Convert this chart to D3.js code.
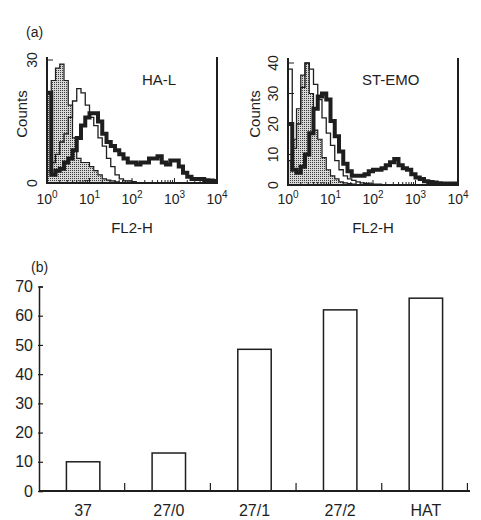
<!DOCTYPE html>
<html><head><meta charset="utf-8">
<script src="https://cdn.jsdelivr.net/npm/d3@7"></script>
<style>
body{margin:0;background:#fff}
svg{display:block;font-family:"Liberation Sans",Arial,Helvetica,sans-serif}
</style>
</head><body>
<script>
// ---- histogram data: bins of 0.1 decade on FL2-H (log10 of bin start) ----
const binLogs = [0.0,0.1,0.2,0.3,0.4,0.5,0.6,0.7,0.8,0.9,
                 1.0,1.1,1.2,1.3,1.4,1.5,1.6,1.7,1.8,1.9,
                 2.0,2.1,2.2,2.3,2.4,2.5,2.6,2.7,2.8,2.9,
                 3.0,3.1,3.2,3.3,3.4,3.5,3.6,3.7,3.8,3.9];
// HA-L
const haControl = [22,25,28,29,25,19,11,6,5,5, 4,3,2,1,0.7,0.5,0.3,0,0,0, 0,0,0,0,0,0,0,0,0,0, 0,0,0,0,0,0,0,0,0,0];
const haThin    = [3,5,7,10,12,16,20,23,22,19, 16,14,11,9,6,4,2,1,0.5,0.5, 0.3,0,0,0,0,0,0,0,0,0, 0,0,0,0,0,0,0,0,0,0];
const haThick   = [22,2,3,3.5,5,6,8,11,14,16, 17,17,15,12,10,9,8,7,6,5, 5,4.5,5,5,6,6,6.5,5,4.5,5.5, 5.5,4,2.5,1.5,1,1,1,0.7,0.6,0.5];
// ST-EMO
const stControl = [8,15,25,36,40,30,18,15,9,5, 3,2,1,0.7,0.5,0.3,0,0,0,0, 0,0,0,0,0,0,0,0,0,0, 0,0,0,0,0,0,0,0,0,0];
const stThin    = [38,12,20,32,40,38,33,28,22,17, 13,8,5,3,2,1.5,1,0.7,0.5,0.4, 0.3,0.3,0,0,0,0,0,0,0,0, 0,0,0,0,0,0,0,0,0,0];
const stThick   = [20,5,4,6,10,17,25,29,30,28, 21,16,11,7,4.5,3,3,3,3.5,4.5, 5,5,5.5,6.5,7.5,8.5,6.5,5.5,5,3.5, 2.5,2,1.2,1,0.8,0.6,0.5,0.5,0.5,0.5];

const decadeTicks  = [1,10,100,1000,10000];
const decadeLabels = ["0","1","2","3","4"];
const haCountTicks = [0,30];
const stCountTicks = [0,10,20,30,40];

// ---- bar chart data ----
const barCategories = ["37","27/0","27/1","27/2","HAT"];
const barValues     = [10,13,48.5,62,66];
const barTicks      = [0,10,20,30,40,50,60,70];

const W = 481, H = 520, ink = "#1e1e1e";
const svg = d3.select("body").append("svg").attr("width",W).attr("height",H);

const defs = svg.append("defs");
const pat = defs.append("pattern").attr("id","stip").attr("width",2).attr("height",2)
  .attr("patternUnits","userSpaceOnUse");
pat.append("rect").attr("width",2).attr("height",2).attr("fill","#d8d8d8");
pat.append("rect").attr("width",1).attr("height",1).attr("fill","#3a3a3a");

svg.append("text").attr("x",26).attr("y",37).attr("font-size",14).attr("fill",ink).text("(a)");

function histogram(cfg){
  const x = d3.scaleLog().domain([1,1e4]).range([cfg.x0,cfg.x1]);
  const y = d3.scaleLinear().domain([0,cfg.yMax]).range([cfg.base,cfg.yMaxPx]);
  const g = svg.append("g");
  const cid = "clip"+cfg.id;
  defs.append("clipPath").attr("id",cid).append("rect")
    .attr("x",cfg.x0).attr("y",cfg.top).attr("width",cfg.x1-cfg.x0).attr("height",cfg.base-cfg.top);
  const pts = arr => arr.map((v,i)=>[Math.pow(10,binLogs[i]),v]).concat([[1e4,arr[arr.length-1]]]);
  const area = d3.area().curve(d3.curveStepAfter).x(d=>x(d[0])).y0(y(0)).y1(d=>y(d[1]));
  const line = d3.line().curve(d3.curveStepAfter).x(d=>x(d[0])).y(d=>y(d[1]));
  const pg = g.append("g").attr("clip-path",`url(#${cid})`);
  pg.append("path").attr("d",area(pts(cfg.control))).attr("fill","url(#stip)")
    .attr("stroke",ink).attr("stroke-width",1.2);
  pg.append("path").attr("d",line(pts(cfg.thin))).attr("fill","none")
    .attr("stroke",ink).attr("stroke-width",1.3);
  pg.append("path").attr("d",line(pts(cfg.thick))).attr("fill","none")
    .attr("stroke",ink).attr("stroke-width",4).attr("stroke-linejoin","miter");

  // frame: left, bottom, right
  g.append("line").attr("x1",cfg.x0).attr("x2",cfg.x0).attr("y1",cfg.top).attr("y2",cfg.base+1)
    .attr("stroke",ink).attr("stroke-width",2);
  g.append("line").attr("x1",cfg.x0).attr("x2",cfg.x1).attr("y1",cfg.base).attr("y2",cfg.base)
    .attr("stroke",ink).attr("stroke-width",2);
  g.append("line").attr("x1",cfg.x1).attr("x2",cfg.x1).attr("y1",cfg.top).attr("y2",cfg.base+1)
    .attr("stroke",ink).attr("stroke-width",2);

  // x ticks (log minor + major), pointing up
  const minor = [];
  for (let k=0;k<4;k++) for (let m=2;m<=9;m++) minor.push(m*Math.pow(10,k));
  g.selectAll(null).data(minor).join("line")
    .attr("x1",d=>x(d)).attr("x2",d=>x(d)).attr("y1",cfg.base).attr("y2",cfg.base-3)
    .attr("stroke",ink).attr("stroke-width",1);
  g.selectAll(null).data(decadeTicks).join("line")
    .attr("x1",d=>x(d)).attr("x2",d=>x(d)).attr("y1",cfg.base).attr("y2",cfg.base-5)
    .attr("stroke",ink).attr("stroke-width",1);
  const xl = g.selectAll(null).data(decadeTicks).join("text")
    .attr("x",d=>x(d)).attr("y",204).attr("text-anchor","middle")
    .attr("font-size",14).attr("fill",ink).text("10");
  xl.append("tspan").attr("dy",-6).attr("font-size",10).text((d,i)=>decadeLabels[i]);

  // y ticks pointing right
  g.selectAll(null).data(cfg.countTicks).join("line")
    .attr("x1",cfg.x0).attr("x2",cfg.x0+6).attr("y1",d=>y(d)).attr("y2",d=>y(d))
    .attr("stroke",ink).attr("stroke-width",1);
  g.selectAll(null).data(cfg.countTicks).join("text")
    .attr("transform",d=>`translate(${cfg.labelX},${y(d)}) rotate(-90)`)
    .attr("dy","0.35em").attr("text-anchor","middle")
    .attr("font-size",14).attr("fill",ink).text(d=>d);

  g.append("text").attr("transform",`translate(${cfg.countsX},114) rotate(-90)`)
    .attr("dy","0.35em").attr("text-anchor","middle").attr("font-size",15).attr("fill",ink).text("Counts");
  g.append("text").attr("x",(cfg.x0+cfg.x1)/2).attr("y",233).attr("text-anchor","middle")
    .attr("font-size",15).attr("fill",ink).text("FL2-H");
  g.append("text").attr("x",cfg.nameX).attr("y",85).attr("font-size",15).attr("fill",ink).text(cfg.name);
}

histogram({id:1,x0:47,x1:217,base:183,top:57,yMax:30,yMaxPx:60,
  control:haControl,thin:haThin,thick:haThick,countTicks:haCountTicks,
  labelX:32,countsX:22,name:"HA-L",nameX:142});
histogram({id:2,x0:288,x1:458,base:185,top:58,yMax:40,yMaxPx:63,
  control:stControl,thin:stThin,thick:stThick,countTicks:stCountTicks,
  labelX:273,countsX:255,name:"ST-EMO",nameX:362});

// ---- bar chart (b) ----
svg.append("text").attr("x",31).attr("y",272).attr("font-size",14).attr("fill",ink).text("(b)");
const bx = d3.scaleBand().domain(barCategories).range([39,470]).paddingInner(0.61).paddingOuter(0.32);
const step = bx.step();
const by = d3.scaleLinear().domain([0,70]).range([491,286.5]);
const bg = svg.append("g");
bg.selectAll(null).data(barCategories).join("rect")
  .attr("x",d=>bx(d)).attr("width",bx.bandwidth())
  .attr("y",(d,i)=>by(barValues[i])).attr("height",(d,i)=>by(0)-by(barValues[i]))
  .attr("fill","#fff").attr("stroke",ink).attr("stroke-width",1.5);
const yAxis = d3.axisLeft(by).tickValues(barTicks).tickSize(-4).tickPadding(6);
const ya = bg.append("g").attr("transform","translate(39,0)").call(yAxis);
ya.select(".domain").attr("stroke",ink).attr("stroke-width",1.5);
ya.selectAll(".tick line").attr("stroke",ink).attr("stroke-width",1.2).attr("x1",-1);
ya.selectAll(".tick text").attr("font-size",16).attr("fill",ink)
  .attr("font-family","Liberation Sans,Arial,sans-serif");
// x axis
bg.append("line").attr("x1",39).attr("x2",470).attr("y1",491).attr("y2",491)
  .attr("stroke",ink).attr("stroke-width",2);
const bounds = barCategories.map((d,i)=>39+step*(i+1));
bg.selectAll(null).data(bounds).join("line")
  .attr("x1",d=>d).attr("x2",d=>d).attr("y1",491).attr("y2",483)
  .attr("stroke",ink).attr("stroke-width",1.2);
bg.selectAll(null).data(barCategories).join("text")
  .attr("x",d=>bx(d)+bx.bandwidth()/2).attr("y",516).attr("text-anchor","middle")
  .attr("font-size",16).attr("fill",ink).text(d=>d);
</script>
</body></html>
